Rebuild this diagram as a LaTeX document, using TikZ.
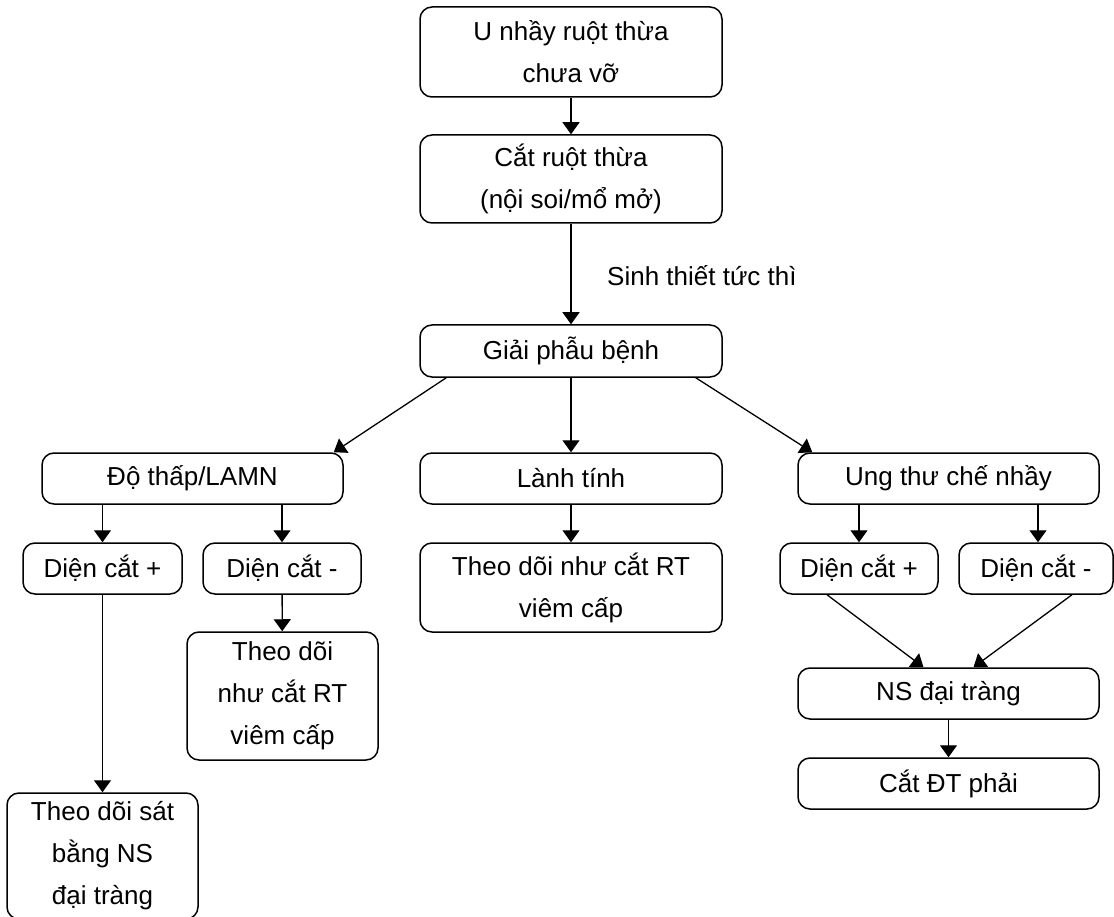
\documentclass[tikz,border=0pt]{standalone}
\usepackage{fontspec}
\setmainfont{Liberation Sans}
\usetikzlibrary{arrows.meta,calc}
\begin{document}
\begin{tikzpicture}[x=1pt,y=-1pt,
  box/.style={draw, rounded corners=12pt, line width=1.5pt, inner sep=0pt, align=center,
    font=\fontsize{26pt}{42pt}\selectfont},
  arr/.style={line width=1.3pt, -{Triangle[width=17pt,length=12pt]}}]
\useasboundingbox (0,0) rectangle (1114,917);
\node[box, minimum width=302pt, minimum height=90pt] (n1) at (571,52) {U nhầy ruột thừa\\chưa vỡ};
\node[box, minimum width=302pt, minimum height=88pt] (n2) at (571,179) {Cắt ruột thừa\\(nội soi/mổ mở)};
\node[box, minimum width=302pt, minimum height=52pt] (n3) at (571,351) {Giải phẫu bệnh};
\node[box, minimum width=301pt, minimum height=51pt] (n4) at (192.5,478.5) {Độ thấp/LAMN};
\node[box, minimum width=302pt, minimum height=51pt] (n5) at (571,478.5) {Lành tính};
\node[box, minimum width=301pt, minimum height=51pt] (n6) at (948.5,478.5) {Ung thư chế nhầy};
\node[box, minimum width=159pt, minimum height=51pt] (n7) at (102.5,568.5) {Diện cắt +};
\node[box, minimum width=158pt, minimum height=51pt] (n8) at (282,568.5) {Diện cắt -};
\node[box, minimum width=302pt, minimum height=89pt] (n9) at (571,587.5) {Theo dõi như cắt RT\\viêm cấp};
\node[box, minimum width=158pt, minimum height=51pt] (n10) at (859,568.5) {Diện cắt +};
\node[box, minimum width=154pt, minimum height=51pt] (n11) at (1036,568.5) {Diện cắt -};
\node[box, minimum width=191pt, minimum height=128pt] (n12) at (282.5,696) {Theo dõi\\như cắt RT\\viêm cấp};
\node[box, minimum width=301pt, minimum height=51pt] (n13) at (948.5,693.5) {NS đại tràng};
\node[box, minimum width=301pt, minimum height=51pt] (n14) at (948.5,783.5) {Cắt ĐT phải};
\node[box, minimum width=191pt, minimum height=126pt] (n15) at (102.5,856) {Theo dõi sát\\bằng NS\\đại tràng};
\node[anchor=west, inner sep=0pt, font=\fontsize{26pt}{42pt}\selectfont] (lbl) at (607,276) {Sinh thiết tức thì};

\draw[arr] (n1) -- (n2);
\draw[arr] (n2) -- (n3);
\draw[arr] ([xshift=27pt]n3.south west) -- ([xshift=-10pt]n4.north east);
\draw[arr] (n3) -- (n5);
\draw[arr] ([xshift=-27pt]n3.south east) -- ([xshift=15pt]n6.north west);
\draw[arr] (n7 |- n4.south) -- (n7);
\draw[arr] (n8 |- n4.south) -- (n8);
\draw[arr] (n5) -- (n9);
\draw[arr] (n10 |- n6.south) -- (n10);
\draw[arr] ([xshift=2pt]n11.north |- n6.south) -- ([xshift=2pt]n11.north);
\draw[arr] (n7) -- (n15);
\draw[arr] (n8) -- (n12);
\draw[arr] ([xshift=-32pt]n10.south) -- ([xshift=-25pt]n13.north);
\draw[arr] ([xshift=36pt]n11.south) -- ([xshift=25pt]n13.north);
\draw[arr] (n13) -- (n14);
\end{tikzpicture}
\end{document}
